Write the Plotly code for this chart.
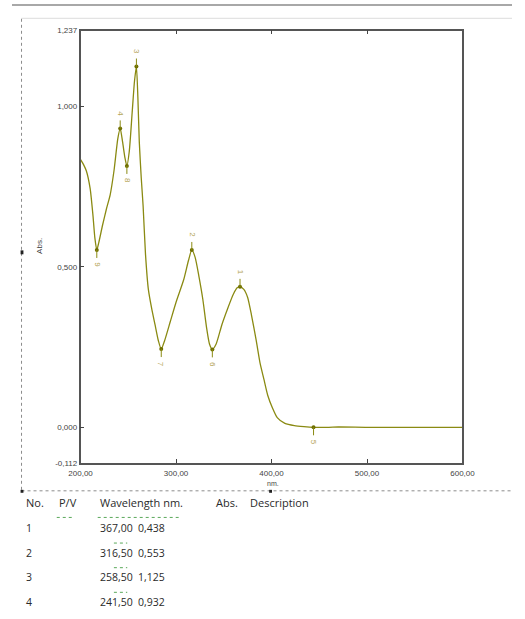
import plotly.graph_objects as go

W, H = 525, 619

# ---- spectrum ----
wavelength = [200, 201, 203, 206, 210, 213, 215, 217, 219, 223, 227, 231, 235, 239, 241.5,
              244, 246.5, 248.5, 251, 254, 256.5, 258.5, 260, 261.5, 263.5, 265.5, 268, 271,
              274.5, 278, 281.5, 284.5, 288, 294, 300, 308, 313, 316.5, 320, 324, 328, 332,
              335, 338, 342, 348, 354, 360, 364, 367, 371, 375, 379, 384, 388, 392, 396, 401,
              406, 414, 424, 434, 444, 460, 470, 500, 550, 600]
absorbance = [0.835, 0.83, 0.82, 0.80, 0.745, 0.66, 0.59, 0.553, 0.575, 0.63, 0.68, 0.725, 0.80,
              0.90, 0.932, 0.89, 0.84, 0.815, 0.86, 0.98, 1.08, 1.125, 1.03, 0.89, 0.78, 0.69,
              0.54, 0.43, 0.37, 0.32, 0.27, 0.244, 0.27, 0.33, 0.39, 0.46, 0.52, 0.553, 0.53,
              0.47, 0.40, 0.31, 0.26, 0.243, 0.26, 0.32, 0.37, 0.415, 0.435, 0.438, 0.43, 0.405,
              0.35, 0.27, 0.20, 0.15, 0.10, 0.06, 0.03, 0.012, 0.005, 0.002, 0.0, 0.0, 0.001,
              0.0, 0.0, 0.0]

# ---- picked peaks / valleys ----
peak_no = [1, 2, 3, 4, 5, 6, 7, 8, 9]
peak_wl = [367.0, 316.5, 258.5, 241.5, 444.0, 338.0, 284.5, 248.5, 217.0]
peak_abs = [0.438, 0.553, 1.125, 0.932, 0.0, 0.243, 0.244, 0.815, 0.553]
peak_kind = ["max", "max", "max", "max", "min", "min", "min", "min", "min"]

# ---- axis ticks ----
y_tickvals = [-0.112, 0.0, 0.5, 1.0, 1.237]
y_ticktext = ["-0,112", "0,000", "0,500", "1,000", "1,237"]
x_tickvals = [200, 300, 400, 500, 600]
x_ticktext = ["200,00", "300,00", "400,00", "500,00", "600,00"]

# ---- table under the chart ----
table_header = ["No.", "P/V", "Wavelength nm.", "Abs.", "Description"]
table_no = ["1", "2", "3", "4"]
table_wl = ["367,00", "316,50", "258,50", "241,50"]
table_abs = ["0,438", "0,553", "1,125", "0,932"]

LINE = "#8a8a12"
LABEL = "#b4a456"

# plot area in pixels
PL, PR, PT, PB = 72, 473, 27, 466
def px(x):
    return x / W
def py(y):
    return 1 - y / H

fig = go.Figure()
fig.add_trace(go.Scatter(x=wavelength, y=absorbance, mode="lines",
                         line=dict(color=LINE, width=1.3, shape="spline", smoothing=0.6),
                         hoverinfo="skip", showlegend=False))
fig.add_trace(go.Scatter(x=peak_wl, y=peak_abs, mode="markers",
                         marker=dict(color="#6f6f00", size=4),
                         hoverinfo="skip", showlegend=False))

shapes = []
annotations = []
for n, xw, ya, k in zip(peak_no, peak_wl, peak_abs, peak_kind):
    if k == "max":
        y0, y1, shift = 0, 8, 15
    else:
        y0, y1, shift = 0, -8, -15
    shapes.append(dict(type="line", xref="x", yref="y", ysizemode="pixel", yanchor=ya,
                       x0=xw, x1=xw, y0=y0, y1=y1, line=dict(color=LINE, width=1)))
    annotations.append(dict(x=xw, y=ya, xref="x", yref="y", text=str(n), showarrow=False,
                            textangle=90, yshift=shift,
                            font=dict(family="Liberation Sans", size=8, color=LABEL)))

# outer page decorations
shapes += [
    dict(type="line", xref="paper", yref="paper", x0=0, x1=1, y0=py(1), y1=py(1),
         line=dict(color="#a8a8a8", width=2)),
    dict(type="line", xref="paper", yref="paper", x0=px(10), x1=1, y0=py(14.5), y1=py(14.5),
         line=dict(color="#dcdcdc", width=1)),
    dict(type="line", xref="paper", yref="paper", x0=px(10), x1=px(10), y0=py(15), y1=py(494),
         line=dict(color="#8c8c8c", width=1, dash="dot")),
    dict(type="line", xref="paper", yref="paper", x0=px(10), x1=1, y0=py(494), y1=py(494),
         line=dict(color="#8c8c8c", width=1, dash="dot")),
    dict(type="rect", xref="paper", yref="paper", x0=px(9), x1=px(12), y0=py(493), y1=py(496),
         fillcolor="#222", line=dict(width=0)),
    dict(type="rect", xref="paper", yref="paper", x0=px(9), x1=px(12), y0=py(250), y1=py(254),
         fillcolor="#222", line=dict(width=0)),
    dict(type="rect", xref="paper", yref="paper", x0=px(270), x1=px(273), y0=py(493), y1=py(496),
         fillcolor="#222", line=dict(width=0)),
]
# spell-check style green underlines
for x0, x1, yy in [(47, 65, 521), (90, 175, 521), (107, 121, 547), (107, 121, 572), (107, 121, 597)]:
    shapes.append(dict(type="line", xref="paper", yref="paper", x0=px(x0), x1=px(x1),
                       y0=py(yy), y1=py(yy), line=dict(color="#5aa85a", width=1, dash="dot")))

# axis titles
annotations.append(dict(x=px(274), y=py(491), xref="paper", yref="paper", text="nm.",
                        showarrow=False, borderpad=0,
                        font=dict(family="Liberation Sans", size=7, color="#444")))
annotations.append(dict(x=px(22), y=py(245), xref="paper", yref="paper", text="Abs.",
                        showarrow=False, textangle=-90,
                        font=dict(family="Liberation Sans", size=8, color="#444")))

# table
TF = dict(family="Open Sans", size=11, color="#2a2a2a")
TN = dict(family="Open Sans", size=10.5, color="#2a2a2a")
header_x = [13, 47, 90, 212, 248]
for t, xx in zip(table_header, header_x):
    annotations.append(dict(x=px(xx), y=py(515), xref="paper", yref="paper", text=t,
                            showarrow=False, xanchor="left", font=TF))
row_y = [541, 566, 591, 616]
for no, wl, ab, yy in zip(table_no, table_wl, table_abs, row_y):
    for t, xx in [(no, 13), (wl, 90), (ab, 130)]:
        annotations.append(dict(x=px(xx), y=py(yy), xref="paper", yref="paper", text=t,
                                showarrow=False, xanchor="left", font=TN))

tickfont = dict(family="Liberation Sans", size=8, color="#444")
fig.update_layout(
    width=W, height=H, margin=dict(l=0, r=0, t=0, b=0),
    paper_bgcolor="white", plot_bgcolor="white",
    xaxis=dict(domain=[px(PL), px(PR)], range=[200, 600], tickvals=x_tickvals,
               ticktext=x_ticktext, ticks="inside", ticklen=4, tickcolor="#444",
               showgrid=False, zeroline=False, showline=True, linecolor="#555", linewidth=1.5,
               mirror="ticks", tickfont=tickfont, ticklabelstandoff=1),
    yaxis=dict(domain=[py(PB), py(PT)], range=[-0.112, 1.237], tickvals=y_tickvals,
               ticktext=y_ticktext, ticks="inside", ticklen=4, tickcolor="#444",
               showgrid=False, zeroline=False, showline=True, linecolor="#555", linewidth=1.5,
               mirror=True, tickfont=tickfont),
    shapes=shapes, annotations=annotations,
)
fig.write_html("out.html", config={"displayModeBar": False},
               post_script="document.body.style.margin='0';document.body.style.padding='0';"
                           "document.body.style.overflow='hidden';")
